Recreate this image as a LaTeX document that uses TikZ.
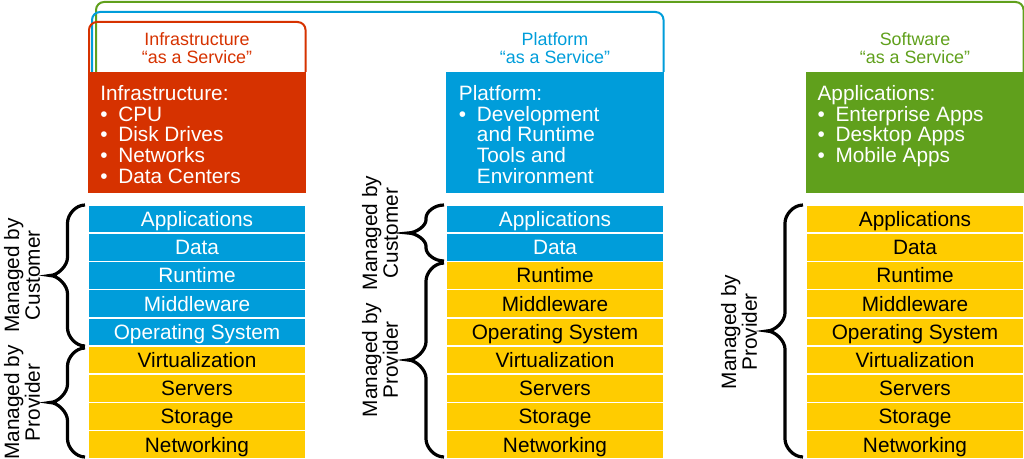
\documentclass[tikz,border=0pt]{standalone}
\usepackage{fontspec}
\setmainfont{Liberation Sans}
\usetikzlibrary{positioning}

\definecolor{iaasred}{RGB}{214,50,0}
\definecolor{paasblue}{RGB}{0,157,218}
\definecolor{saasgreen}{RGB}{96,160,28}
\definecolor{provyellow}{RGB}{255,204,0}

\newcommand{\layerfont}{\fontsize{15.6pt}{15.6pt}\selectfont}
\newcommand{\labelfont}{\fontsize{13.4pt}{13.5pt}\selectfont}
\newcommand{\hitem}{\makebox[13.5pt][l]{\textbullet}}
\newcommand{\hgap}{\hspace*{13.5pt}}

% brace: end x, tip x, top y, bottom y, curl
\newcommand{\curlybrace}[5]{%
  \pgfmathsetmacro{\bmid}{(#1+#2)/2}
  \pgfmathsetmacro{\bcen}{(#3+#4)/2}
  \pgfmathsetmacro{\bdx}{0.45*(#1-#2)/2}
  \pgfmathsetmacro{\bdy}{0.45*#5}
  \draw[curly] (#1,#3) .. controls (\bmid+\bdx,#3) and (\bmid,#3+#5-\bdy) .. (\bmid,#3+#5)
    -- (\bmid,\bcen-#5) .. controls (\bmid,\bcen-#5+\bdy) and (#2+\bdx,\bcen) .. (#2,\bcen)
    .. controls (#2+\bdx,\bcen) and (\bmid,\bcen+#5-\bdy) .. (\bmid,\bcen+#5)
    -- (\bmid,#4-#5) .. controls (\bmid,#4-#5+\bdy) and (\bmid+\bdx,#4) .. (#1,#4);
}

% stack of layers: left x, name prefix, number of customer layers
\newcommand{\layerstack}[3]{%
  \foreach \lab [count=\i] in {Applications,Data,Runtime,Middleware,Operating System,Virtualization,Servers,Storage,Networking}{
    \ifnum\i>#3\relax \colorlet{layfill}{provyellow}\colorlet{laytext}{black}%
    \else \colorlet{layfill}{paasblue}\colorlet{laytext}{white}\fi
    \node[stacklayer, fill=layfill, text=laytext] (#2\i) at (#1+109,190.9+28.2*\i) {\lab};
  }}

\tikzset{
  stacklayer/.style={draw=white, line width=1.2pt, minimum width=163.5pt, minimum height=21.15pt,
    inner sep=0pt, text height=11pt, text depth=0pt, font=\layerfont},
  head/.style={minimum width=163.5pt, minimum height=90.75pt, inner sep=0pt, anchor=north west},
  headtext/.style={text=white, font=\layerfont, align=left, inner sep=0pt, anchor=north west},
  servlabel/.style={font=\labelfont, align=center, inner sep=0pt},
  servframe/.style={line width=1.5pt, rounded corners=6pt},
  manager/.style={rotate=90, font=\layerfont, align=center, inner sep=0pt},
  curly/.style={line width=2.4pt}
}

\begin{document}
\begin{tikzpicture}[x=0.75pt,y=-0.75pt]
\useasboundingbox (0,0) rectangle (1024,459);

% headers
\node[head, fill=iaasred] (ihead) at (88,72) {};
\node[head, fill=paasblue] (phead) at (446,72) {};
\node[head, fill=saasgreen] (shead) at (806,72) {};

\node[headtext] (itext) at ([xshift=9pt,yshift=-9.75pt]ihead.north west)
  {Infrastructure:\\ \hitem CPU\\ \hitem Disk Drives\\ \hitem Networks\\ \hitem Data Centers};
\node[headtext] (ptext) at ([xshift=9.5pt,yshift=-9.75pt]phead.north west)
  {Platform:\\ \hitem Development\\ \hgap and Runtime\\ \hgap Tools and\\ \hgap Environment};
\node[headtext] (stext) at ([xshift=8.5pt,yshift=-9.75pt]shead.north west)
  {Applications:\\ \hitem Enterprise Apps\\ \hitem Desktop Apps\\ \hitem Mobile Apps};

% service frames
\draw[servframe, saasgreen] ([xshift=6pt]ihead.north west) |- ([xshift=-0.75pt,yshift=52.5pt]shead.north east) -- ([xshift=-0.75pt]shead.north east);
\draw[servframe, paasblue] ([xshift=3pt]ihead.north west) |- ([xshift=-0.75pt,yshift=45pt]phead.north east) -- ([xshift=-0.75pt]phead.north east);
\draw[servframe, iaasred] ([xshift=0.75pt]ihead.north west) |- ([xshift=-0.75pt,yshift=37.5pt]ihead.north east) -- ([xshift=-0.75pt]ihead.north east);

\node[servlabel, text=iaasred] (ilabel) at (197,48.4) {Infrastructure\\“as a Service”};
\node[servlabel, text=paasblue] (plabel) at (555,48.4) {Platform\\“as a Service”};
\node[servlabel, text=saasgreen] (slabel) at (915,48.4) {Software\\“as a Service”};

% layer stacks
\layerstack{88}{i}{5}
\layerstack{446}{p}{2}
\layerstack{806}{s}{0}

% who manages what
\curlybrace{85}{50}{205}{346}{18}
\curlybrace{85}{50}{348}{457}{18}
\curlybrace{444}{408}{205}{261}{13}
\curlybrace{444}{408}{263}{457}{18}
\curlybrace{803}{767}{205}{457}{18}

\node[manager] (icust) at (22,275.5) {Managed by\\Customer};
\node[manager] (iprov) at (22,402.5) {Managed by\\Provider};
\node[manager] (pcust) at (380,233) {Managed by\\Customer};
\node[manager] (pprov) at (380,360) {Managed by\\Provider};
\node[manager] (sprov) at (739,332) {Managed by\\Provider};
\end{tikzpicture}
\end{document}
